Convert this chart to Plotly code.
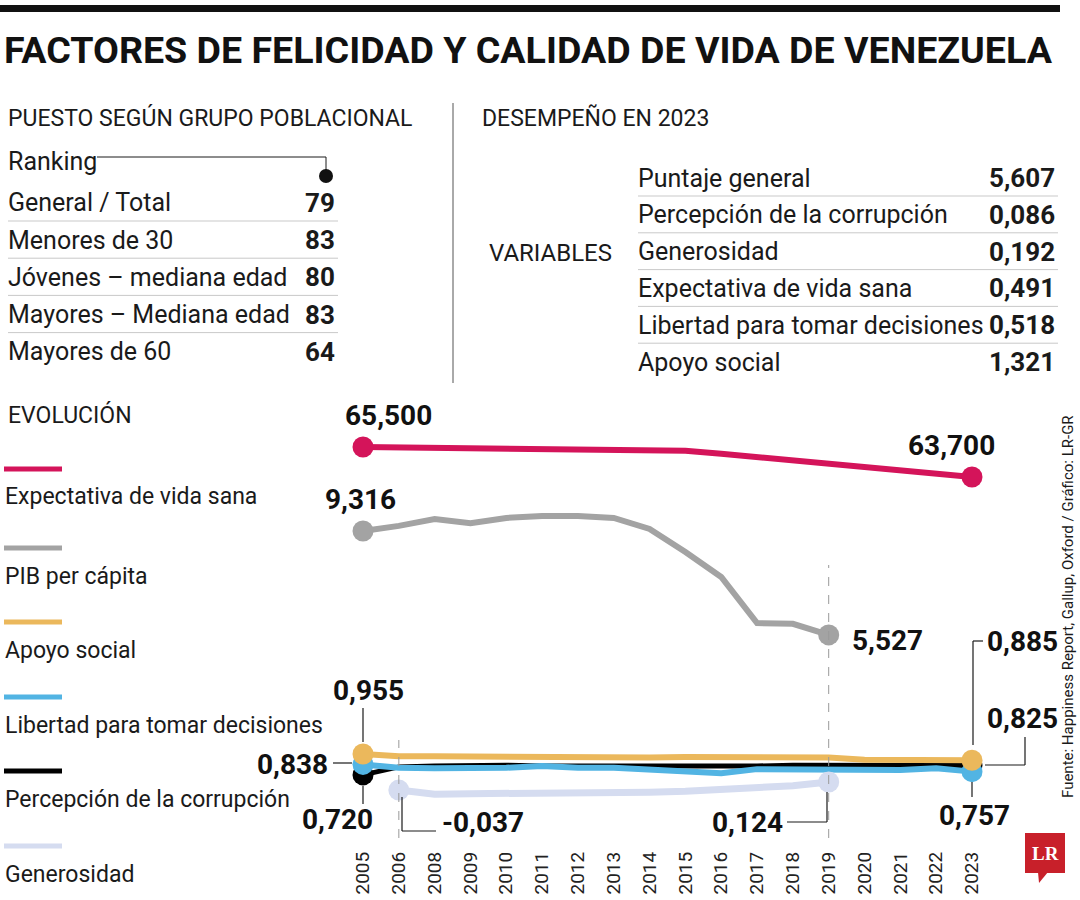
import plotly.graph_objects as go

# ---------------- DATA ----------------
years = ["2005", "2006", "2008", "2009", "2010", "2011", "2012", "2013", "2014",
         "2015", "2016", "2017", "2018", "2019", "2020", "2021", "2022", "2023"]
vida = [65.5, 65.48, 65.45, 65.43, 65.4, 65.38, 65.35, 65.33, 65.3, 65.28,
        65.1, 64.9, 64.7, 64.5, 64.3, 64.1, 63.9, 63.7]
pib = [9.316, 9.50, 9.75, 9.60, 9.79, 9.86, 9.86, 9.79, 9.39, 8.55, 7.64,
       5.96, 5.93, 5.527, None, None, None, None]
apoyo = [0.955, 0.93, 0.93, 0.925, 0.925, 0.925, 0.92, 0.92, 0.915, 0.92,
         0.915, 0.915, 0.915, 0.915, 0.89, 0.89, 0.90, 0.885]
libertad = [0.838, 0.80, 0.795, 0.795, 0.80, 0.82, 0.80, 0.80, 0.775, 0.765,
            0.74, 0.785, 0.785, 0.785, 0.785, 0.775, 0.795, 0.757]
corrupcion = [0.720, 0.81, 0.82, 0.83, 0.83, 0.82, 0.82, 0.82, 0.81, 0.82,
              0.82, 0.82, 0.83, 0.83, 0.82, 0.82, 0.83, 0.825]
generosidad = [None, -0.037, -0.12, -0.11, -0.11, -0.10, -0.10, -0.10, -0.08,
               -0.06, -0.03, 0.00, 0.05, 0.124, None, None, None, None]

grupos = ["General / Total", "Menores de 30", "Jóvenes – mediana edad",
          "Mayores – Mediana edad", "Mayores de 60"]
puestos = [79, 83, 80, 83, 64]

variables = ["Puntaje general", "Percepción de la corrupción", "Generosidad",
             "Expectativa de vida sana", "Libertad para tomar decisiones", "Apoyo social"]
desempeno = [5.607, 0.086, 0.192, 0.491, 0.518, 1.321]

series_names = ["Expectativa de vida sana", "PIB per cápita", "Apoyo social",
                "Libertad para tomar decisiones", "Percepción de la corrupción", "Generosidad"]
series_colors = ["#d4145a", "#a3a3a3", "#ebb85c", "#52b4e3", "#000000", "#d5dcf0"]

# ---------------- STYLE ----------------
FONT = "Roboto, sans-serif"
W, H = 1080, 900


def px(x):
    return x / W


def py(y):
    return 1 - y / H


def fmt(v):
    return f"{v:.3f}".replace(".", ",")


fig = go.Figure()

series = [(vida, "y"), (pib, "y2"), (apoyo, "y3"), (libertad, "y3"),
          (corrupcion, "y3"), (generosidad, "y4")]
widths = [6, 6, 6, 6, 5, 7]
for i in [1, 0, 5, 4, 3, 2]:
    vals, ax = series[i]
    valid = [k for k, v in enumerate(vals) if v is not None]
    sizes = [21 if k in (valid[0], valid[-1]) else 0 for k in range(len(vals))]
    fig.add_trace(go.Scatter(
        x=years, y=vals, yaxis=ax, mode="lines+markers", name=series_names[i],
        line=dict(color=series_colors[i], width=widths[i]),
        marker=dict(size=sizes, color=series_colors[i], opacity=1, line=dict(width=0)),
        cliponaxis=False, showlegend=False, hoverinfo="skip"))

dom = [py(845), py(400)]
fig.update_layout(
    width=W, height=H, margin=dict(l=0, r=0, t=0, b=0),
    paper_bgcolor="white", plot_bgcolor="white",
    font=dict(family=FONT, color="#1a1a1a"),
    xaxis=dict(type="category", domain=[px(345.1), px(989.9)], range=[-0.5, 17.5],
               showgrid=False, zeroline=False, showline=False, ticks="",
               ticklabelstandoff=2,
               tickangle=-90, tickfont=dict(size=19, family=FONT, color="#222")),
    yaxis=dict(domain=dom, range=[41.62, 68.32], visible=False),
    yaxis2=dict(domain=dom, range=[-2.132, 14.09], overlaying="y", visible=False),
    yaxis3=dict(domain=dom, range=[-0.0675, 4.933], overlaying="y", visible=False),
    yaxis4=dict(domain=dom, range=[-1.136, 7.764], overlaying="y", visible=False),
)

ann = []
shapes = []


def text(x, y, s, size=25, bold=False, xa="left", ya="middle", color="#1a1a1a", angle=0):
    ann.append(dict(x=px(x), y=py(y), xref="paper", yref="paper", text=f"<b>{s}</b>" if bold else s,
                    showarrow=False, xanchor=xa, yanchor=ya, textangle=angle,
                    font=dict(family=FONT, size=size, color=color)))


def line(x0, y0, x1, y1, color="#1a1a1a", width=1.2, dash="solid"):
    shapes.append(dict(type="line", xref="paper", yref="paper", x0=px(x0), y0=py(y0),
                       x1=px(x1), y1=py(y1), line=dict(color=color, width=width, dash=dash)))


# top bar and title
shapes.append(dict(type="rect", xref="paper", yref="paper", x0=px(0), x1=px(1060),
                   y0=py(12), y1=py(5), fillcolor="#111", line=dict(width=0)))
text(2, 50, "FACTORES DE FELICIDAD Y CALIDAD DE VIDA DE VENEZUELA", size=37.6, bold=True, color="#111")

# left table
text(6, 118, "PUESTO SEGÚN GRUPO POBLACIONAL", size=23)
text(6, 162, "Ranking", size=25)
line(97, 157, 326, 157, width=1)
line(326, 157, 326, 170, width=1)
shapes.append(dict(type="circle", xref="paper", yref="paper", x0=px(319), x1=px(333),
                   y0=py(183), y1=py(169), fillcolor="#111", line=dict(width=0)))
for k, (g, p) in enumerate(zip(grupos, puestos)):
    yy = 203 + k * 37.2
    text(6, yy, g, size=25)
    text(337, yy, str(p), size=26, bold=True, xa="right")
    if k < len(grupos) - 1:
        line(8, yy + 18, 338, yy + 18, color="#c9c9c9", width=1)

# divider
line(453, 103, 453, 383, color="#555", width=1)

# right table
text(480, 118, "DESEMPEÑO EN 2023", size=23)
text(487, 253, "VARIABLES", size=24)
for k, (v, d) in enumerate(zip(variables, desempeno)):
    yy = 178 + k * 36.8
    text(636, yy, v, size=25)
    text(1057, yy, fmt(d), size=26, bold=True, xa="right")
    if k < len(variables) - 1:
        line(638, yy + 18, 1058, yy + 18, color="#c9c9c9", width=1)

# evolution legend
text(6, 415, "EVOLUCIÓN", size=23)
leg_y = [469, 548, 622, 697, 771, 846]
for k, (nm, c) in enumerate(zip(series_names, series_colors)):
    line(4, leg_y[k], 62, leg_y[k], color=c, width=5)
    text(3, leg_y[k] + 28, nm, size=23)

# dashed guide lines
shapes.append(dict(type="line", xref="x", yref="paper", x0=1, x1=1, y0=py(838), y1=py(740),
                   line=dict(color="#999", width=1, dash="dash")))
shapes.append(dict(type="line", xref="x", yref="paper", x0=13, x1=13, y0=py(838), y1=py(565),
                   line=dict(color="#999", width=1, dash="dash")))


def dlabel(xi, val, yref, xs, ys, xa="center"):
    ann.append(dict(x=xi, y=val, xref="x", yref=yref, text=f"<b>{fmt(val)}</b>", showarrow=False,
                    xanchor=xa, yanchor="middle", xshift=xs, yshift=ys,
                    font=dict(family=FONT, size=28, color="#111")))


last = len(years) - 1
dlabel(0, vida[0], "y", 25, 32)
dlabel(last, vida[last], "y", -20, 32)
dlabel(0, pib[0], "y2", -3, 31)
dlabel(13, pib[13], "y2", 21, -6, xa="left")
dlabel(0, apoyo[0], "y3", 5, 64)
dlabel(0, libertad[0], "y3", -33, 0, xa="right")
dlabel(0, corrupcion[0], "y3", -26, -45)
dlabel(1, generosidad[1], "y4", 41, -32, xa="left")
dlabel(13, generosidad[13], "y4", -44, -40, xa="right")
dlabel(last, apoyo[last], "y3", 13, 119, xa="left")
dlabel(last, corrupcion[last], "y3", 13, 47, xa="left")
dlabel(last, libertad[last], "y3", 3, -44)

# connectors
line(363, 708, 363, 742)
line(333, 763, 352, 763)
line(363, 786, 363, 804)
line(402, 797, 402, 831)
line(402, 831, 436, 831)
line(787, 822, 827, 822)
line(827, 822, 827, 792)
line(973, 745, 973, 641)
line(973, 641, 983, 641)
line(985, 765, 1025, 765)
line(1025, 765, 1025, 737)
line(972, 782, 972, 797)

# source
text(1068, 607, "Fuente: Happiness Report, Gallup, Oxford / Gráfico: LR-GR", size=15, xa="center", angle=-90)

# logo
shapes.append(dict(type="rect", xref="paper", yref="paper", x0=px(1025), x1=px(1065),
                   y0=py(873), y1=py(833), fillcolor="#c8202a", line=dict(width=0)))
shapes.append(dict(type="path", xref="paper", yref="paper",
                   path=f"M {px(1038)} {py(872)} L {px(1048)} {py(872)} L {px(1039)} {py(883)} Z",
                   fillcolor="#c8202a", line=dict(width=0)))
ann.append(dict(x=px(1045), y=py(853), xref="paper", yref="paper", text="<b>LR</b>", showarrow=False,
                xanchor="center", yanchor="middle",
                font=dict(family="Liberation Serif, DejaVu Serif, serif", size=19, color="white")))

fig.update_layout(annotations=ann, shapes=shapes)
fig.write_html("out.html", config={"displayModeBar": False},
               post_script="document.body.style.margin='0';document.documentElement.style.overflow='hidden';")
